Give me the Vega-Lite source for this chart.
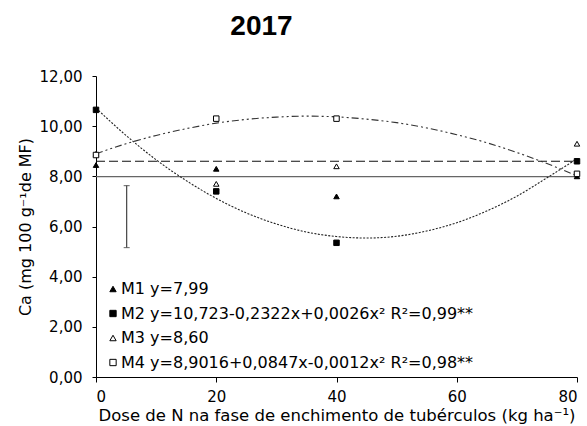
{
  "$schema": "https://vega.github.io/schema/vega-lite/v6.json",
  "width": 481,
  "height": 301,
  "autosize": {"type": "none"},
  "padding": {"left": 96, "top": 76, "right": 10, "bottom": 49},
  "background": "white",
  "config": {
    "font": "DejaVu Sans",
    "view": {"stroke": null},
    "axis": {"grid": false, "domainColor": "black", "tickColor": "black", "labelColor": "black", "titleColor": "black", "labelFont": "DejaVu Sans", "titleFont": "DejaVu Sans", "titleFontWeight": "normal", "labelFontSize": 15, "titleFontSize": 15}
  },
  "title": {"text": "2017", "fontSize": 28, "fontWeight": "bold", "font": "Liberation Sans", "anchor": "middle", "dx": -75, "offset": 28, "color": "black"},
  "datasets": {
    "pts": [
      {"serie": "M1 y=7,99", "dose": 0, "ca": 8.45},
      {"serie": "M1 y=7,99", "dose": 20, "ca": 8.3},
      {"serie": "M1 y=7,99", "dose": 40, "ca": 7.2},
      {"serie": "M1 y=7,99", "dose": 80, "ca": 8.0},
      {"serie": "M2 y=10,723-0,2322x+0,0026x² R²=0,99**", "dose": 0, "ca": 10.65},
      {"serie": "M2 y=10,723-0,2322x+0,0026x² R²=0,99**", "dose": 20, "ca": 7.4},
      {"serie": "M2 y=10,723-0,2322x+0,0026x² R²=0,99**", "dose": 40, "ca": 5.35},
      {"serie": "M2 y=10,723-0,2322x+0,0026x² R²=0,99**", "dose": 80, "ca": 8.6},
      {"serie": "M3 y=8,60", "dose": 0, "ca": 8.9},
      {"serie": "M3 y=8,60", "dose": 20, "ca": 7.7},
      {"serie": "M3 y=8,60", "dose": 40, "ca": 8.4},
      {"serie": "M3 y=8,60", "dose": 80, "ca": 9.3},
      {"serie": "M4 y=8,9016+0,0847x-0,0012x² R²=0,98**", "dose": 0, "ca": 8.85},
      {"serie": "M4 y=8,9016+0,0847x-0,0012x² R²=0,98**", "dose": 20, "ca": 10.3},
      {"serie": "M4 y=8,9016+0,0847x-0,0012x² R²=0,98**", "dose": 40, "ca": 10.3},
      {"serie": "M4 y=8,9016+0,0847x-0,0012x² R²=0,98**", "dose": 80, "ca": 8.1}
    ],
    "fit": [
      {"curva": "M1", "dose": 0, "ca": 7.99},
      {"curva": "M1", "dose": 80, "ca": 7.99},
      {"curva": "M3", "dose": 0, "ca": 8.6},
      {"curva": "M3", "dose": 80, "ca": 8.6},
      {"curva": "M2", "dose": 0, "ca": 10.72},
      {"curva": "M2", "dose": 5, "ca": 9.63},
      {"curva": "M2", "dose": 10, "ca": 8.66},
      {"curva": "M2", "dose": 15, "ca": 7.83},
      {"curva": "M2", "dose": 20, "ca": 7.12},
      {"curva": "M2", "dose": 25, "ca": 6.54},
      {"curva": "M2", "dose": 30, "ca": 6.1},
      {"curva": "M2", "dose": 35, "ca": 5.78},
      {"curva": "M2", "dose": 40, "ca": 5.6},
      {"curva": "M2", "dose": 45, "ca": 5.54},
      {"curva": "M2", "dose": 50, "ca": 5.61},
      {"curva": "M2", "dose": 55, "ca": 5.82},
      {"curva": "M2", "dose": 60, "ca": 6.15},
      {"curva": "M2", "dose": 65, "ca": 6.62},
      {"curva": "M2", "dose": 70, "ca": 7.21},
      {"curva": "M2", "dose": 75, "ca": 7.94},
      {"curva": "M2", "dose": 80, "ca": 8.7},
      {"curva": "M4", "dose": 0, "ca": 8.9},
      {"curva": "M4", "dose": 5, "ca": 9.3},
      {"curva": "M4", "dose": 10, "ca": 9.63},
      {"curva": "M4", "dose": 15, "ca": 9.9},
      {"curva": "M4", "dose": 20, "ca": 10.12},
      {"curva": "M4", "dose": 25, "ca": 10.27},
      {"curva": "M4", "dose": 30, "ca": 10.36},
      {"curva": "M4", "dose": 35, "ca": 10.4},
      {"curva": "M4", "dose": 40, "ca": 10.37},
      {"curva": "M4", "dose": 45, "ca": 10.28},
      {"curva": "M4", "dose": 50, "ca": 10.14},
      {"curva": "M4", "dose": 55, "ca": 9.93},
      {"curva": "M4", "dose": 60, "ca": 9.66},
      {"curva": "M4", "dose": 65, "ca": 9.34},
      {"curva": "M4", "dose": 70, "ca": 8.95},
      {"curva": "M4", "dose": 75, "ca": 8.51},
      {"curva": "M4", "dose": 80, "ca": 8.02}
    ],
    "err": [
      {"dose": 5.1, "lo": 5.16, "hi": 7.63}
    ]
  },
  "encoding": {
    "x": {"field": "dose", "type": "quantitative", "scale": {"domain": [0, 80], "nice": false, "zero": false},
      "axis": {"values": [0, 20, 40, 60, 80], "title": "Dose de N na fase de enchimento de tubérculos (kg ha⁻¹)", "titleFontSize": 16.5, "titlePadding": 3, "labelPadding": 7, "tickSize": 5}}
  },
  "layer": [
    {
      "data": {"name": "fit"},
      "mark": {"type": "line", "interpolate": "monotone", "strokeWidth": 1.1, "clip": true},
      "encoding": {
        "y": {"field": "ca", "type": "quantitative", "scale": {"domain": [0, 12], "nice": false},
          "axis": {"values": [0, 2, 4, 6, 8, 10, 12], "labelExpr": "replace(format(datum.value, '.2f'), '.', ',')", "title": "Ca (mg 100 g⁻¹de MF)", "titleFontSize": 16, "titlePadding": 6, "labelPadding": 10, "tickSize": 4}},
        "detail": {"field": "curva"},
        "strokeDash": {"field": "curva", "type": "nominal", "legend": null,
          "scale": {"domain": ["M1", "M2", "M3", "M4"], "range": [[1, 0], [2, 1.5], [9, 4], [7, 3, 2, 3, 2, 3]]}},
        "color": {"field": "curva", "type": "nominal", "legend": null,
          "scale": {"domain": ["M1", "M2", "M3", "M4"], "range": ["#666666", "#222222", "#111111", "#333333"]}}
      }
    },
    {
      "data": {"name": "err"},
      "mark": {"type": "rule", "color": "#444444", "strokeWidth": 1.2},
      "encoding": {
        "y": {"field": "lo", "type": "quantitative"},
        "y2": {"field": "hi"}
      }
    },
    {
      "data": {"name": "err"},
      "mark": {"type": "tick", "orient": "horizontal", "color": "#444444", "size": 6, "thickness": 1.2},
      "encoding": {"y": {"field": "lo", "type": "quantitative"}}
    },
    {
      "data": {"name": "err"},
      "mark": {"type": "tick", "orient": "horizontal", "color": "#444444", "size": 6, "thickness": 1.2},
      "encoding": {"y": {"field": "hi", "type": "quantitative"}}
    },
    {
      "data": {"name": "pts"},
      "mark": {"type": "point", "filled": true, "opacity": 1, "strokeWidth": 1},
      "encoding": {
        "y": {"field": "ca", "type": "quantitative"},
        "shape": {"field": "serie", "type": "nominal", "title": null,
          "scale": {"domain": ["M1 y=7,99", "M2 y=10,723-0,2322x+0,0026x² R²=0,99**", "M3 y=8,60", "M4 y=8,9016+0,0847x-0,0012x² R²=0,98**"], "range": ["triangle-up", "square", "triangle-up", "square"]},
          "legend": {"orient": "none", "legendX": 9, "legendY": 205, "padding": 0, "rowPadding": 8.5, "labelOffset": 0, "labelLimit": 0, "symbolSize": 40, "symbolStrokeWidth": 1, "labelFont": "DejaVu Sans", "labelFontSize": 16, "labelColor": "black"}},
        "fill": {"field": "serie", "type": "nominal", "title": null,
          "scale": {"domain": ["M1 y=7,99", "M2 y=10,723-0,2322x+0,0026x² R²=0,99**", "M3 y=8,60", "M4 y=8,9016+0,0847x-0,0012x² R²=0,98**"], "range": ["black", "black", "white", "white"]},
          "legend": {"orient": "none", "legendX": 9, "legendY": 205, "padding": 0, "rowPadding": 8.5, "labelOffset": 0, "labelLimit": 0, "symbolSize": 40, "symbolStrokeWidth": 1, "labelFont": "DejaVu Sans", "labelFontSize": 16, "labelColor": "black"}},
        "stroke": {"field": "serie", "type": "nominal", "title": null,
          "scale": {"domain": ["M1 y=7,99", "M2 y=10,723-0,2322x+0,0026x² R²=0,99**", "M3 y=8,60", "M4 y=8,9016+0,0847x-0,0012x² R²=0,98**"], "range": ["black", "black", "black", "black"]},
          "legend": {"orient": "none", "legendX": 9, "legendY": 205, "padding": 0, "rowPadding": 8.5, "labelOffset": 0, "labelLimit": 0, "symbolSize": 40, "symbolStrokeWidth": 1, "labelFont": "DejaVu Sans", "labelFontSize": 16, "labelColor": "black"}}
      }
    }
  ]
}
